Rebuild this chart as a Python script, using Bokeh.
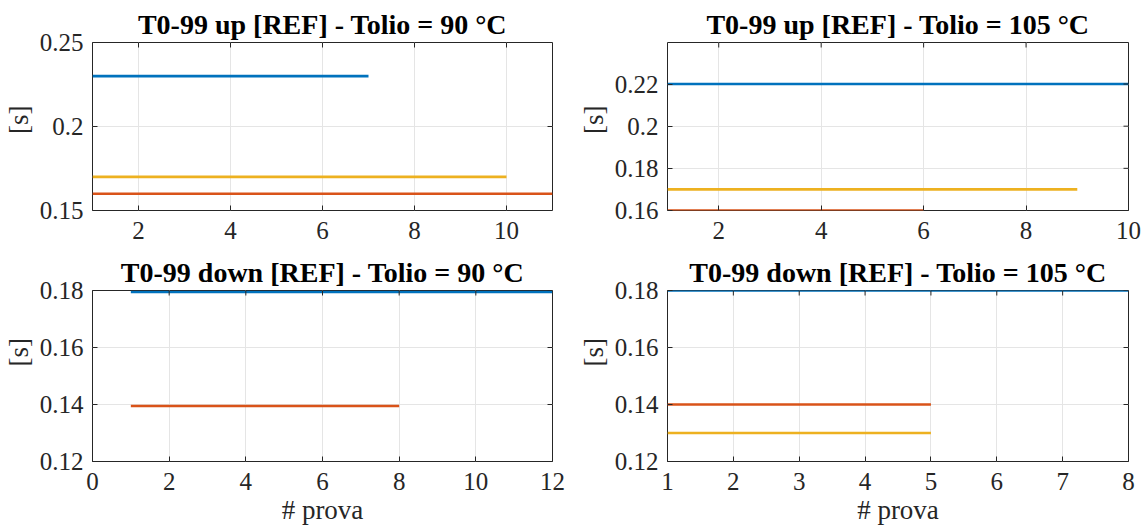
from bokeh.plotting import figure
from bokeh.layouts import column, row
from bokeh.models import Range1d, FixedTicker, CustomJSTickFormatter
from bokeh.embed import file_html
from bokeh.resources import INLINE

# --- data: mean T0-99 time per series, drawn over the range of tests (# prova) ---
series_colors = ["#0072BD", "#D95319", "#EDB120"]

up90_prova = [[1, 7], [1, 11], [1, 10]]
up90_level = [0.23, 0.16, 0.17]

up105_prova = [[1, 10], [1, 6], [1, 9]]
up105_level = [0.22, 0.16, 0.17]

down90_prova = [[1, 12], [1, 8]]
down90_level = [0.1795, 0.1395]

down105_prova = [[1, 8], [1, 5], [1, 5]]
down105_level = [0.18, 0.14, 0.13]

titles = [
    "T0-99 up [REF] - Tolio = 90 \u00b0C",
    "T0-99 up [REF] - Tolio = 105 \u00b0C",
    "T0-99 down [REF] - Tolio = 90 \u00b0C",
    "T0-99 down [REF] - Tolio = 105 \u00b0C",
]

x_limits = [(1, 11), (1, 10), (0, 12), (1, 8)]
y_limits = [(0.15, 0.25), (0.16, 0.2397), (0.12, 0.18), (0.12, 0.18)]
x_ticks = [[2, 4, 6, 8, 10], [2, 4, 6, 8, 10], [0, 2, 4, 6, 8, 10, 12], [1, 2, 3, 4, 5, 6, 7, 8]]
y_ticks = [[0.15, 0.2, 0.25], [0.16, 0.18, 0.2, 0.22], [0.12, 0.14, 0.16, 0.18], [0.12, 0.14, 0.16, 0.18]]

FONT = "Liberation Serif"
INK = "#262626"
GRID = "#e5e5e5"
TICK_PX = 5
# no-break spaces before "[s]" push the rotated label up from the axis middle
YLABEL_PAD = [2, 2, 7, 7]

fmt_code = "return String(+tick.toFixed(4));"


def panel(i, prova, level, width, height, borders, xlabel=None):
    left, right, top, bottom = borders
    frame_w = width - left - right
    frame_h = height - top - bottom
    x0, x1 = x_limits[i]
    y0, y1 = y_limits[i]
    p = figure(width=width, height=height, output_backend="svg", toolbar_location=None,
               x_range=Range1d(x0, x1), y_range=Range1d(y0, y1),
               min_border_left=left, min_border_right=right,
               min_border_top=top, min_border_bottom=bottom,
               background_fill_color="white", border_fill_color="white")
    p.title.text = titles[i]
    p.title.text_font = FONT
    p.title.text_font_size = "28px"
    p.title.text_font_style = "bold"
    p.title.text_color = "black"
    p.title.align = "center"
    p.title.standoff = 5

    p.outline_line_color = INK
    p.outline_line_width = 1

    p.xgrid.grid_line_color = GRID
    p.ygrid.grid_line_color = GRID

    for k, (xs, y) in enumerate(zip(prova, level)):
        p.line(xs, [y, y], line_color=series_colors[k], line_width=2.6)

    xa = p.xaxis[0]
    ya = p.yaxis[0]
    xa.ticker = FixedTicker(ticks=x_ticks[i])
    ya.ticker = FixedTicker(ticks=y_ticks[i])
    p.xgrid.ticker = xa.ticker
    p.ygrid.ticker = ya.ticker
    ya.formatter = CustomJSTickFormatter(code=fmt_code)
    ya.axis_label = "\u00a0" * YLABEL_PAD[i] + "[s]"
    if xlabel:
        xa.axis_label = xlabel
    for ax in (xa, ya):
        ax.axis_line_color = None
        ax.major_tick_in = TICK_PX
        ax.major_tick_out = 0
        ax.major_tick_line_color = INK
        ax.minor_tick_line_color = None
        ax.major_label_text_font = FONT
        ax.major_label_text_font_size = "25px"
        ax.major_label_text_color = INK
        ax.axis_label_text_font = FONT
        ax.axis_label_text_font_size = "27px"
        ax.axis_label_text_font_style = "normal"
        ax.axis_label_text_color = INK
    xa.major_label_standoff = 11
    ya.major_label_standoff = 9
    ya.axis_label_standoff = 3
    xa.axis_label_standoff = 2

    # tick marks mirrored on the top and right edges of the box
    dy = (y1 - y0) / frame_h * TICK_PX
    dx = (x1 - x0) / frame_w * TICK_PX
    xt = x_ticks[i]
    yt = y_ticks[i]
    p.segment(x0=xt, y0=[y1] * len(xt), x1=xt, y1=[y1 - dy] * len(xt),
              line_color=INK, line_width=1)
    p.segment(x0=[x1] * len(yt), y0=yt, x1=[x1 - dx] * len(yt), y1=yt,
              line_color=INK, line_width=1)
    return p


p1 = panel(0, up90_prova, up90_level, 573, 250, (92, 21, 42, 40))
p2 = panel(1, up105_prova, up105_level, 573, 250, (94, 18, 42, 40))
p3 = panel(2, down90_prova, down90_level, 573, 281, (92, 21, 40, 70), xlabel="# prova")
p4 = panel(3, down105_prova, down105_level, 573, 281, (94, 18, 40, 70), xlabel="# prova")

layout = column(row(p1, p2), row(p3, p4))
open("out.html", "w").write(file_html(layout, INLINE))
